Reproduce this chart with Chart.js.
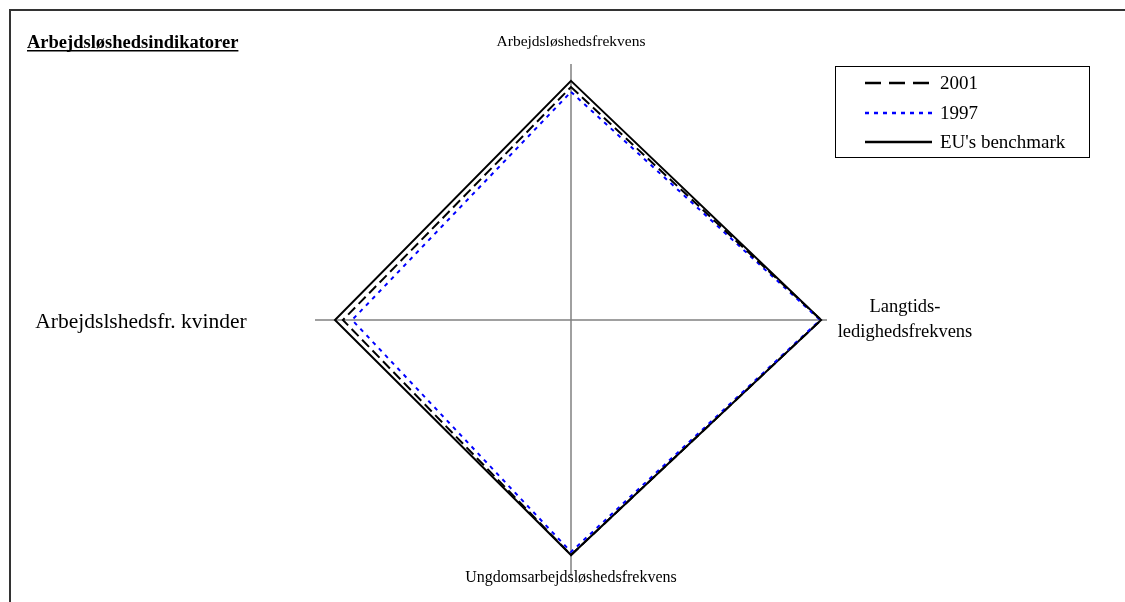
<!DOCTYPE html>
<html>
<head>
  <title>Arbejdsløshedsindikatorer</title>
  <meta charset="utf-8">
  <script src="https://cdn.jsdelivr.net/npm/chart.js"></script>
  <style>
    html, body { margin: 0; padding: 0; background: #fff; }
    #wrap { width: 1125px; height: 602px; position: relative; }
  </style>
</head>
<body>
<div id="wrap"><canvas id="radar"></canvas></div>

<script>
  // axes, clockwise from the top
  const axisLabels = [
    'Arbejdsløshedsfrekvens',
    ['Langtids-', 'ledighedsfrekvens'],
    'Ungdomsarbejdsløshedsfrekvens',
    'Arbejdslshedsfr. kvinder'
  ];
  const seriesNames = ['2001', '1997', "EU's benchmark"];
  const values2001 = [91.0, 97.7, 91.8, 89.1];
  const values1997 = [89.1, 97.3, 90.6, 85.5];
  const valuesEU = [93.4, 97.7, 91.8, 92.2];
  const scaleMax = 100;

  const serif = '"Liberation Serif", "Times New Roman", serif';

  // where the axis names sit, relative to the centre of the radar
  const labelOffsets = [[0, -278], [334, 0], [0, 258], [-430, 2]];
  const labelSizes = [15.5, 18.5, 16, 21.5];

  // frame, title, axis names and the legend box
  const decorPlugin = {
    id: 'decor',
    beforeDraw(chart) {
      const ctx = chart.ctx;
      ctx.save();
      ctx.fillStyle = '#fff';
      ctx.fillRect(0, 0, chart.width, chart.height);
      ctx.strokeStyle = '#333';
      ctx.lineWidth = 2;
      ctx.beginPath();
      ctx.moveTo(10, chart.height);
      ctx.lineTo(10, 10);
      ctx.lineTo(chart.width, 10);
      ctx.stroke();
      ctx.restore();
    },
    afterDraw(chart) {
      const ctx = chart.ctx;
      const scale = chart.scales.r;
      ctx.save();
      ctx.fillStyle = '#000';

      // title
      ctx.font = 'bold 18.5px ' + serif;
      ctx.textAlign = 'left';
      ctx.textBaseline = 'alphabetic';
      const title = 'Arbejdsløshedsindikatorer';
      ctx.fillText(title, 27, 48);
      const tw = ctx.measureText(title).width;
      ctx.fillRect(27, 50, tw, 1.5);

      // axis names
      ctx.textAlign = 'center';
      ctx.textBaseline = 'middle';
      axisLabels.forEach((lab, i) => {
        ctx.font = labelSizes[i] + 'px ' + serif;
        const x = scale.xCenter + labelOffsets[i][0];
        const y = scale.yCenter + labelOffsets[i][1];
        const lines = Array.isArray(lab) ? lab : [lab];
        const lh = 25;
        lines.forEach((t, k) => {
          ctx.fillText(t, x, y + (k - (lines.length - 1) / 2) * lh);
        });
      });

      // legend
      ctx.strokeStyle = '#000';
      ctx.lineWidth = 1;
      ctx.strokeRect(835.5, 66.5, 254, 91);
      const rows = [83, 113, 142];
      const dashes = [[16, 8], [4, 5], []];
      ctx.font = '19px ' + serif;
      ctx.textAlign = 'left';
      chart.data.datasets.forEach((ds, i) => {
        ctx.save();
        ctx.strokeStyle = ds.borderColor;
        ctx.lineWidth = 2.5;
        ctx.setLineDash(dashes[i]);
        ctx.beginPath();
        ctx.moveTo(865, rows[i]);
        ctx.lineTo(932, rows[i]);
        ctx.stroke();
        ctx.restore();
        ctx.fillText(ds.label, 940, rows[i] + 1);
      });
      ctx.restore();
    }
  };

  new Chart(document.getElementById('radar'), {
    type: 'radar',
    data: {
      labels: axisLabels,
      datasets: [{
        label: seriesNames[0],
        data: values2001,
        borderColor: '#000',
        borderWidth: 2,
        borderDash: [10, 5],
        fill: false,
        pointRadius: 0,
        tension: 0
      }, {
        label: seriesNames[1],
        data: values1997,
        borderColor: '#0000ff',
        borderWidth: 2,
        borderDash: [4, 5],
        fill: false,
        pointRadius: 0,
        tension: 0
      }, {
        label: seriesNames[2],
        data: valuesEU,
        borderColor: '#000',
        borderWidth: 2,
        fill: false,
        pointRadius: 0,
        tension: 0
      }]
    },
    options: {
      responsive: true,
      maintainAspectRatio: false,
      animation: false,
      layout: {
        padding: { left: 315, top: 64, right: 298, bottom: 26 }
      },
      scales: {
        r: {
          min: 0,
          max: scaleMax,
          grid: { display: false },
          angleLines: { display: true, color: '#808080', lineWidth: 1.5 },
          ticks: { display: false },
          pointLabels: { display: false }
        }
      },
      plugins: {
        legend: { display: false },
        tooltip: { enabled: false }
      }
    },
    plugins: [decorPlugin]
  });
</script>
</body>
</html>
